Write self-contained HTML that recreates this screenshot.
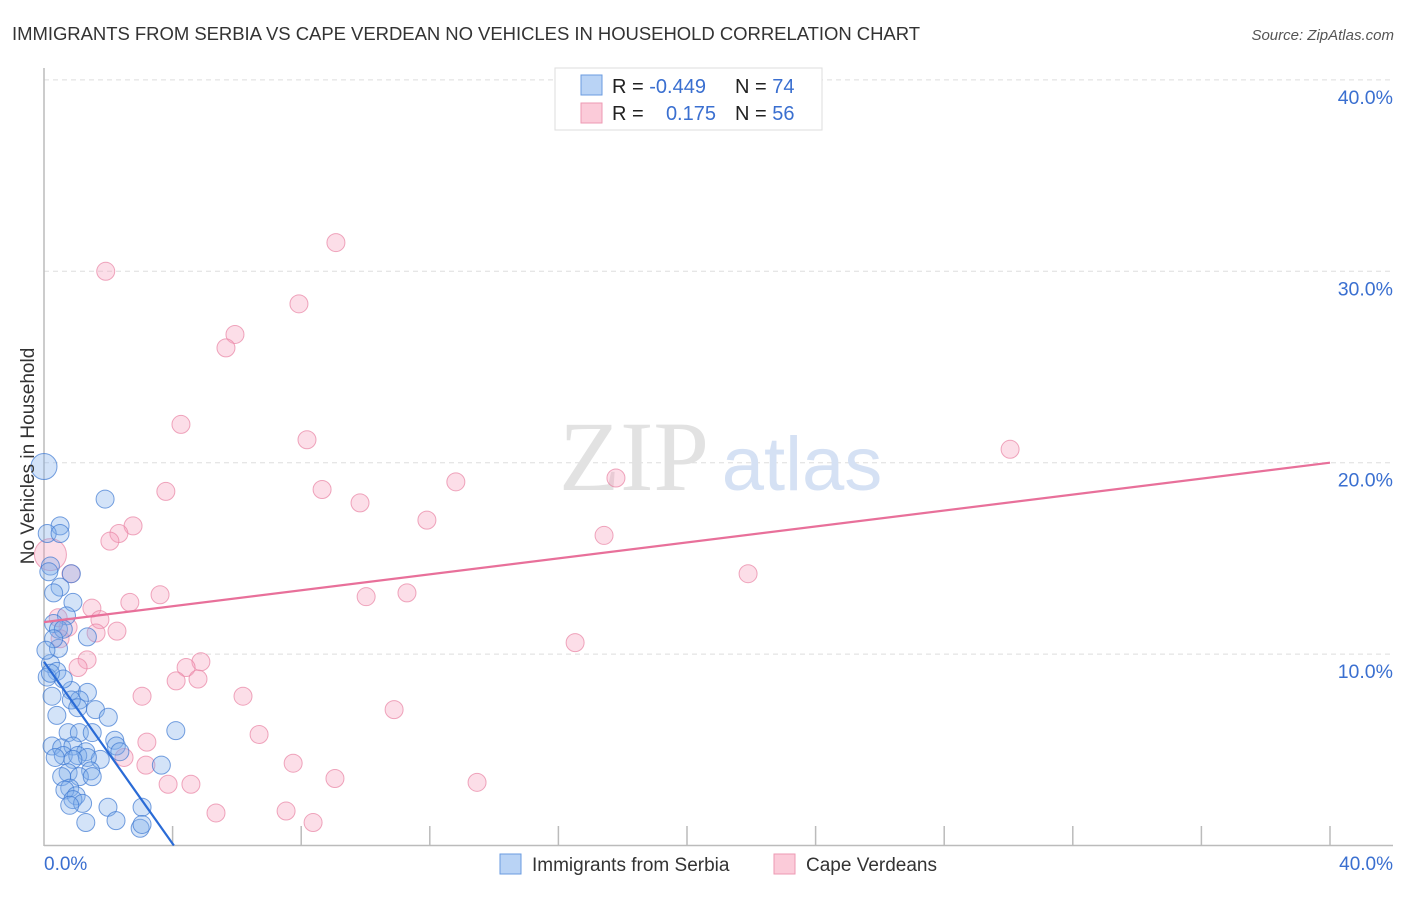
<!DOCTYPE html>
<html><head><meta charset="utf-8"><style>
body{margin:0;background:#fff;font-family:"Liberation Sans",sans-serif;}
svg text{font-family:"Liberation Sans",sans-serif;}
</style></head><body>
<svg width="1406" height="892" xmlns="http://www.w3.org/2000/svg" id="chart">
<text x="12" y="40" font-size="18.5" fill="#333" textLength="908">IMMIGRANTS FROM SERBIA VS CAPE VERDEAN NO VEHICLES IN HOUSEHOLD CORRELATION CHART</text>
<text x="1394" y="40" font-size="15" fill="#555" font-style="italic" text-anchor="end">Source: ZipAtlas.com</text>
<g id="grid"></g>
<g>
<text x="634" y="490" font-size="100" fill="#e2e2e2" text-anchor="middle" style="font-family:'Liberation Serif',serif">ZIP</text>
<text x="802" y="490" font-size="76" fill="#d5e1f4" text-anchor="middle">atlas</text>
</g>
<line x1="44" y1="68" x2="44" y2="846" stroke="#bbb" stroke-width="1.5"/>
<line x1="44" y1="845.5" x2="1393" y2="845.5" stroke="#bbb" stroke-width="1.5"/>
<g id="ticks"></g>
<g id="pinkpts"></g>
<g id="bluepts"></g>
<g id="lines"></g>
<text x="34" y="456" font-size="19" fill="#333" text-anchor="middle" transform="rotate(-90 34 456)">No Vehicles in Household</text>
<text x="44" y="870" font-size="19" fill="#3a6fd0">0.0%</text>
<text x="1393" y="870" font-size="19" fill="#3a6fd0" text-anchor="end">40.0%</text>
<g>
<rect x="555" y="68" width="267" height="62" fill="#fff" stroke="#ddd"/>
<rect x="581" y="75" width="21" height="20" fill="#b9d3f5" stroke="#6a9be0"/>
<rect x="581" y="103" width="21" height="20" fill="#fbcbd9" stroke="#ee9ab3"/>
<text x="612" y="93" font-size="20" fill="#222">R = <tspan fill="#3a6fd0">-0.449</tspan></text>
<text x="735" y="93" font-size="20" fill="#222">N = <tspan fill="#3a6fd0">74</tspan></text>
<text x="612" y="120" font-size="20" fill="#222">R = </text>
<text x="716" y="120" font-size="20" fill="#3a6fd0" text-anchor="end">0.175</text>
<text x="735" y="120" font-size="20" fill="#222">N = <tspan fill="#3a6fd0">56</tspan></text>
</g>
<g>
<rect x="500" y="854" width="21" height="20" fill="#b9d3f5" stroke="#6a9be0"/>
<text x="532" y="871" font-size="19" fill="#333">Immigrants from Serbia</text>
</g>
<g>
<rect x="774" y="854" width="21" height="20" fill="#fbcbd9" stroke="#ee9ab3"/>
<text x="806" y="871" font-size="19" fill="#333">Cape Verdeans</text>
</g>
</svg>
<script>
const yTicks=[10,20,30,40];
const xTickVals=[0,4,8,12,16,20,24,28,32,36,40];
const blueX=[0,1.9,0.5,0.1,0.5,0.2,0.15,0.85,0.5,0.3,0.9,0.7,0.3,0.45,1.35,0.6,0.45,0.2,0.4,0.1,0.25,0.4,0.85,1.35,1.1,0.85,1.05,1.6,2.0,4.1,0.75,1.1,1.5,2.2,2.25,0.25,0.55,0.9,1.3,1.75,0.6,1.05,1.35,0.35,0.9,1.45,3.65,0.75,1.1,0.55,1.5,0.8,0.65,1.0,0.9,1.2,0.8,1.99,3.05,2.24,1.3,2.99,3.05,0.3,0.6,0.06,2.36,0.2];
const blueY=[19.8,18.1,16.7,16.3,16.3,14.6,14.3,14.2,13.5,13.2,12.7,12.0,11.6,11.3,10.9,11.3,10.3,9.5,9.1,8.8,7.8,6.8,8.1,8.0,7.6,7.6,7.2,7.1,6.7,6.0,5.9,5.9,5.9,5.5,5.2,5.2,5.1,5.2,4.9,4.5,4.7,4.7,4.6,4.6,4.5,3.9,4.2,3.8,3.6,3.6,3.6,3.0,2.9,2.6,2.4,2.2,2.1,2.0,2.0,1.3,1.2,0.9,1.1,10.8,8.7,10.2,4.9,9.0];
const pinkX=[1.92,9.08,7.93,5.94,5.66,4.26,8.18,30.05,3.79,8.65,12.81,17.79,9.83,2.77,2.33,2.05,11.91,17.42,0.84,21.9,3.61,2.67,10.02,11.29,1.49,0.44,1.74,0.75,2.27,1.62,0.5,16.52,1.34,4.88,1.06,4.42,4.11,4.79,6.19,3.05,10.89,6.69,3.2,3.17,2.49,7.75,9.05,3.86,4.57,13.47,5.35,7.53,8.37,0.2];
const pinkY=[30.0,31.5,28.3,26.7,26.0,22.0,21.2,20.7,18.5,18.6,19.0,19.2,17.9,16.7,16.3,15.9,17.0,16.2,14.2,14.2,13.1,12.7,13.0,13.2,12.4,11.9,11.8,11.4,11.2,11.1,10.8,10.6,9.7,9.6,9.3,9.3,8.6,8.7,7.8,7.8,7.1,5.8,5.4,4.2,4.6,4.3,3.5,3.2,3.2,3.3,1.7,1.8,1.2,15.2];
const blueLine=[9.6,4.04];
const pinkLine=[11.67,20.0];
const NS='http://www.w3.org/2000/svg';
const sx=v=>44+v*32.15, sy=v=>845.5-v*19.14;
function mk(tag,attrs,parent){const e=document.createElementNS(NS,tag);for(const k in attrs)e.setAttribute(k,attrs[k]);parent.appendChild(e);return e;}
const grid=document.getElementById('grid');
yTicks.forEach(t=>{
 const l=mk('line',{x1:44,x2:1393,y1:sy(t),y2:sy(t),stroke:'#ddd','stroke-dasharray':'5,4'},grid);
 
 
 const tx=mk('text',{x:1393,y:sy(t)+24,'font-size':19.5,fill:'#3a6fd0','text-anchor':'end'},grid);
 tx.textContent=t.toFixed(1)+'%';
 
 
});
const ticks=document.getElementById('ticks');
xTickVals.forEach(t=>{
 if(t===0)return;
 const l=mk('line',{x1:sx(t),x2:sx(t),y1:826,y2:846,stroke:'#bbb','stroke-width':1.5},ticks);
 
 
});
const pg=document.getElementById('pinkpts');
pinkX.forEach((x,i)=>{
 const r=(i===pinkX.length-1)?16:9;
 const c=mk('circle',{cx:sx(x),cy:sy(pinkY[i]),r:r,fill:'rgba(246,160,188,0.35)',stroke:'rgba(232,130,162,0.7)','stroke-width':1},pg);
 
 
});
const bg=document.getElementById('bluepts');
blueX.forEach((x,i)=>{
 const r=(i===0)?13:9;
 const c=mk('circle',{cx:sx(x),cy:sy(blueY[i]),r:r,fill:'rgba(130,175,235,0.35)',stroke:'rgba(60,120,210,0.7)','stroke-width':1},bg);
 
 
});
const lg=document.getElementById('lines');
const bl=mk('line',{x1:sx(0),y1:sy(blueLine[0]),x2:sx(blueLine[1]),y2:sy(0),stroke:'#2a6bd6','stroke-width':2.2},lg);


const pl=mk('line',{x1:sx(0),y1:sy(pinkLine[0]),x2:sx(40),y2:sy(pinkLine[1]),stroke:'#e8709a','stroke-width':2.2},lg);


</script>
</body></html>
